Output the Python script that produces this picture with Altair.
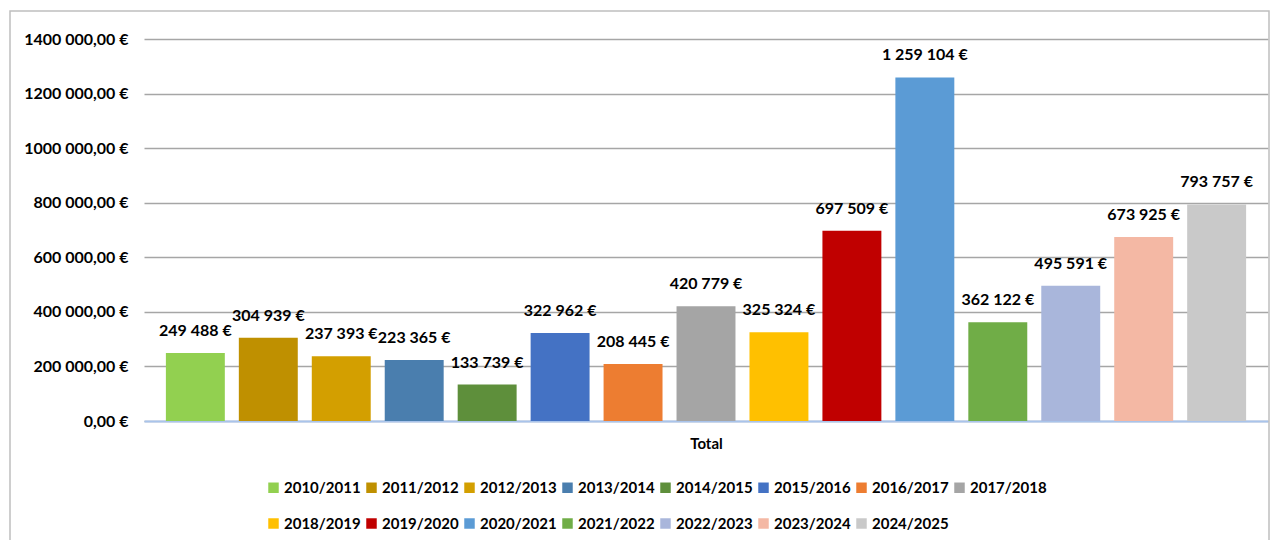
import altair as alt
import pandas as pd

seasons = ["2010/2011", "2011/2012", "2012/2013", "2013/2014", "2014/2015",
           "2015/2016", "2016/2017", "2017/2018", "2018/2019", "2019/2020",
           "2020/2021", "2021/2022", "2022/2023", "2023/2024", "2024/2025"]
values = [249488, 304939, 237393, 223365, 133739, 322962, 208445, 420779,
          325324, 697509, 1259104, 362122, 495591, 673925, 793757]
colors = ["#92D050", "#BF9000", "#D39F00", "#4A7EAE", "#5E8F3B",
          "#4472C4", "#ED7D31", "#A5A5A5", "#FFC000", "#C00000",
          "#5B9BD5", "#70AD47", "#A9B6DB", "#F4B8A4", "#C9C9C9"]
y_ticks = [0, 200000, 400000, 600000, 800000, 1000000, 1200000, 1400000]

df = pd.DataFrame({
    "saison": seasons,
    "valeur": values,
    "label": [f"{v:,}".replace(",", " ") + " €" for v in values],
})

FONT = "Lato"

x_enc = alt.X("saison:N", sort=seasons,
              scale=alt.Scale(paddingInner=0.192, paddingOuter=0.3),
              axis=alt.Axis(labels=False, ticks=False, title="Total",
                            domainColor="#A9C4EB", domainWidth=2,
                            titleFont=FONT, titleFontSize=15, titleFontWeight="bold",
                            titleColor="#000000", titlePadding=15))
y_enc = alt.Y("valeur:Q", scale=alt.Scale(domain=[0, 1400000]),
              axis=alt.Axis(values=y_ticks, title=None, domain=False, ticks=False,
                            labelExpr="datum.value == 0 ? '0,00 €' : (datum.value / 1000) + ' 000,00 €'",
                            labelFont=FONT, labelFontSize=16, labelFontWeight="bold",
                            labelColor="#000000", labelPadding=16,
                            gridColor="#A6A6A6", gridWidth=1.5))

base = alt.Chart(df)

bars = base.mark_bar().encode(
    x=x_enc,
    y=y_enc,
    color=alt.Color("saison:N",
                    scale=alt.Scale(domain=seasons, range=colors),
                    legend=alt.Legend(title=None, orient="none", legendX=122, legendY=441,
                                      direction="horizontal", columns=8,
                                      symbolType="square", symbolSize=110,
                                      symbolStrokeWidth=0,
                                      labelFont=FONT, labelFontSize=15,
                                      labelFontWeight="bold", labelColor="#000000",
                                      columnPadding=3, rowPadding=20, labelOffset=3)),
)

texts = base.mark_text(dy=-22, baseline="middle", align="center",
                       font=FONT, fontSize=16, fontWeight="bold",
                       color="#000000").encode(
    x=alt.X("saison:N", sort=seasons),
    y=alt.Y("valeur:Q"),
    text="label:N",
)

frame = alt.Chart(pd.DataFrame({"a": [0]})).mark_rect(
    fill="transparent", stroke="#BFBFBF", strokeWidth=1.5
).encode(
    x=alt.value(-134), x2=alt.value(1125), y=alt.value(-28), y2=alt.value(530)
)

chart = alt.layer(frame, bars, texts).properties(
    width=1124, height=382,
    padding={"left": 136, "top": 31, "right": 5, "bottom": 119},
    autosize=alt.AutoSizeParams(type="none"),
).configure_view(stroke=None)

chart.save("out.html", embed_options={"renderer": "svg", "actions": False})
